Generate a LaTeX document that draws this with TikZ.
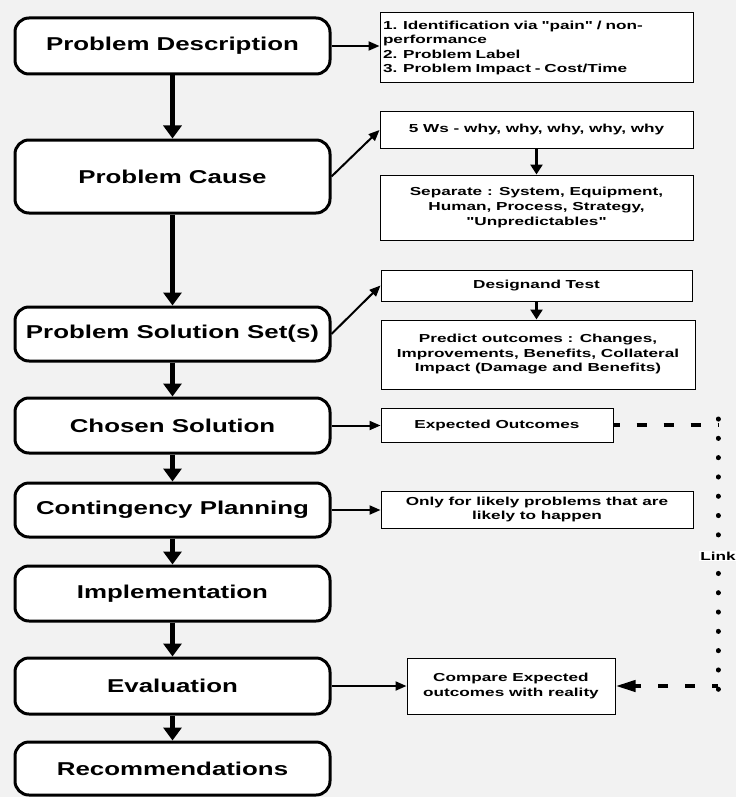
\documentclass[tikz,border=0pt]{standalone}
\usepackage{fontspec}
\setmainfont{Liberation Sans}
\newfontfamily\stepfont{Liberation Sans}[FakeStretch=1.39]
\newfontfamily\notefont{Liberation Sans}[FakeStretch=1.48]
\usetikzlibrary{arrows.meta}
\definecolor{canvas}{HTML}{F2F2F2}

\begin{document}
\begin{tikzpicture}[x=1pt,y=-1pt,
  stepbox/.style={draw, line width=3pt, rounded corners=14pt, fill=white,
    minimum width=315pt, inner sep=0pt,
    font=\stepfont\bfseries\fontsize{18.6}{22}\selectfont},
  notebox/.style={draw, line width=1pt, fill=white, inner sep=2pt, align=center,
    minimum width=313pt,
    font=\notefont\bfseries\fontsize{11.6}{14.5}\selectfont},
  flow/.style={line width=5.5pt, -{Triangle[length=13pt,width=18pt]}},
  side/.style={line width=2pt, -{Triangle[length=11pt,width=9pt]}},
  sub/.style={line width=3pt, -{Triangle[length=10pt,width=12pt]}},
  linkdash/.style={line width=4pt, dash pattern=on 10pt off 17pt},
  linkdot/.style={line width=5pt, line cap=round, dash pattern=on 0.1pt off 19.2pt},
  linklabel/.style={fill=white, inner sep=1pt,
    font=\notefont\bfseries\fontsize{11.6}{12}\selectfont}
]
\useasboundingbox (0,0) rectangle (736,797);
\fill[canvas] (0,0) rectangle (736,797);

% main sequence of steps
\node[stepbox, minimum height=56pt] (desc)   at (172.5,46)    {Problem Description};
\node[stepbox, minimum height=73pt] (cause)  at (172.5,176.5) {Problem Cause};
\node[stepbox, minimum height=54pt] (sol)    at (172.5,334)   {Problem Solution Set(s)};
\node[stepbox, minimum height=55pt] (chosen) at (172.5,425.5) {Chosen Solution};
\node[stepbox, minimum height=54pt] (cont)   at (172.5,510)   {Contingency Planning};
\node[stepbox, minimum height=55pt] (impl)   at (172.5,593.5) {Implementation};
\node[stepbox, minimum height=56pt] (eval)   at (172.5,686)   {Evaluation};
\node[stepbox, minimum height=53pt] (rec)    at (172.5,768.5) {Recommendations};

% notes beside the steps
\node[notebox, align=left, text width=307pt, minimum height=70pt] (r1) at (536.5,48)
  {1. Identification via "pain" / non-\\performance\\2. Problem Label\\3. Problem Impact - Cost/Time};
\node[notebox, minimum height=36pt] (ws)  at (536.5,130)   {5 Ws - why, why, why, why, why};
\node[notebox, minimum height=65pt] (sep) at (536.5,207.5)
  {Separate : System, Equipment,\\Human, Process, Strategy,\\"Unpredictables"};
\node[notebox, minimum width=311pt, minimum height=31pt] (des) at (536.5,285.5) {Designand Test};
\node[notebox, minimum width=314pt, minimum height=69pt] (pred) at (538,354.5)
  {Predict outcomes : Changes,\\Improvements, Benefits, Collateral\\Impact (Damage and Benefits)};
\node[notebox, minimum width=232pt, minimum height=34pt] (exp) at (497,425) {Expected Outcomes};
\node[notebox, minimum width=312pt, minimum height=37pt] (only) at (537,509.5)
  {Only for likely problems that are\\likely to happen};
\node[notebox, minimum width=208pt, minimum height=56pt] (cmp) at (511,686)
  {Compare Expected\\outcomes with reality};

% flow between steps
\draw[flow] (desc) -- (cause);
\draw[flow] (cause) -- (sol);
\draw[flow] (sol) -- (chosen);
\draw[flow] (chosen) -- (cont);
\draw[flow] (cont) -- (impl);
\draw[flow] (impl) -- (eval);
\draw[flow] (eval) -- (rec);

% steps to their notes
\draw[side] (desc.east) -- (desc.east -| r1.west);
\draw[side] (cause.east) -- (ws.west);
\draw[side] (sol.east) -- (des.west);
\draw[side] (chosen.east) -- (chosen.east -| exp.west);
\draw[side] (cont.east) -- (cont.east -| only.west);
\draw[side] (eval.east) -- (cmp.west);
\draw[sub] (ws.south) -- (sep.north);
\draw[sub] (des.south) -- (des.south |- pred.north);

% link from expected outcomes to the comparison
\coordinate (lt) at (718,425);
\coordinate (lb) at (718,686);
\draw[linkdash, dash phase=4pt] (exp.east) -- (lt);
\draw[linkdot] ([yshift=6pt]lt) -- ([yshift=-4pt]lb);
\draw[linkdash, dash phase=4pt, -{Triangle[length=20pt,width=11pt]}] (lb) -- (cmp.east);
\node[linklabel] (lnk) at (718,556) {Link};
\end{tikzpicture}
\end{document}
